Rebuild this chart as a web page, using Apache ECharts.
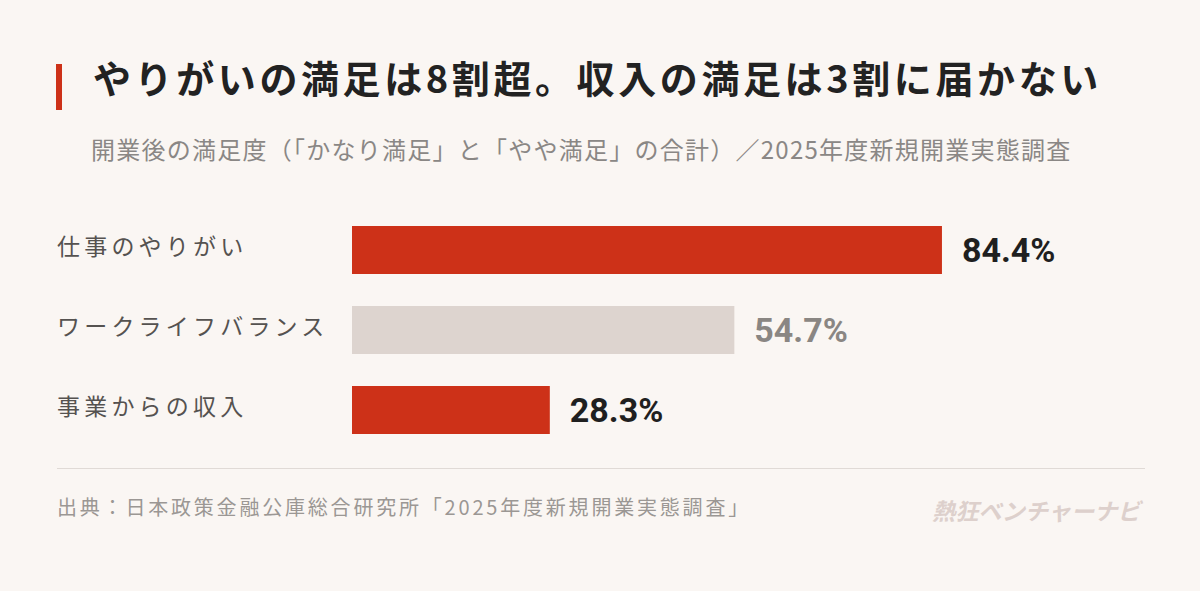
<!DOCTYPE html>
<html>
<head>
<meta charset="utf-8">
<script src="https://cdn.jsdelivr.net/npm/echarts@6/dist/echarts.min.js"></script>
<style>
  html, body { margin: 0; padding: 0; background: #faf6f3; }
  #chart { width: 1200px; height: 591px; }
  /* letter spacing of the original typesetting, picked by font size */
  #chart text[style*="38px"] { letter-spacing: 3.6px; }
  #chart text[style*="24px"] { letter-spacing: 1.25px; }
  #chart text[style*="23px"] { letter-spacing: 4.2px; }
  #chart text[style*="20px"] { letter-spacing: 2.8px; }
</style>
</head>
<body>
<div id="chart"></div>
<script>
const categories = ['仕事のやりがい', 'ワークライフバランス', '事業からの収入'];
const values = [84.4, 54.7, 28.3];
const barColors = ['#cd3118', '#ddd4cf', '#cd3118'];
const labelColors = ['#1f1f1f', '#8a8683', '#1f1f1f'];

const sansFont = '"Noto Sans CJK JP", "Noto Sans", sans-serif';
const numFont = 'Roboto, "Liberation Sans", sans-serif';

const myChart = echarts.init(document.getElementById('chart'), null, { renderer: 'svg' });

myChart.setOption({
  backgroundColor: '#faf6f3',
  animation: false,
  grid: { left: 352, right: 149, top: 210, bottom: 141 },
  xAxis: {
    type: 'value',
    min: 0,
    max: 100,
    show: false
  },
  yAxis: {
    type: 'category',
    data: categories,
    inverse: true,
    axisLine: { show: false },
    axisTick: { show: false },
    axisLabel: {
      align: 'left',
      margin: 295,
      formatter: v => '{t|' + v + '}',
      rich: {
        t: {
          color: '#555250',
          fontSize: 23,
          fontFamily: sansFont,
          padding: [0, 0, 10, 0]
        }
      }
    }
  },
  series: [{
    type: 'bar',
    barWidth: 48,
    data: values.map((v, i) => ({
      value: v,
      itemStyle: { color: barColors[i] },
      label: { color: labelColors[i] }
    })),
    label: {
      show: true,
      position: 'right',
      distance: 20,
      fontSize: 34,
      fontWeight: 'bold',
      fontFamily: numFont,
      padding: [5, 0, 0, 0],
      formatter: p => p.value.toFixed(1) + '%'
    }
  }],
  graphic: [
    { type: 'rect', left: 56, top: 64, shape: { width: 6, height: 46 }, style: { fill: '#cd3118' } },
    {
      type: 'text', left: 93, top: 57,
      style: {
        text: 'やりがいの満足は8割超。収入の満足は3割に届かない',
        fill: '#222', font: 'bold 38px ' + sansFont
      }
    },
    {
      type: 'text', left: 91, top: 136,
      style: {
        text: '開業後の満足度（「かなり満足」と「やや満足」の合計）／2025年度新規開業実態調査',
        fill: '#8a8785', font: '24px ' + sansFont
      }
    },
    { type: 'rect', left: 57, top: 468, shape: { width: 1088, height: 1 }, style: { fill: '#e0dad6' } },
    {
      type: 'text', left: 57, top: 496,
      style: {
        text: '出典：日本政策金融公庫総合研究所「2025年度新規開業実態調査」',
        fill: '#9b9794', font: '20px ' + sansFont
      }
    },
    {
      type: 'text', left: 932, top: 498,
      style: {
        text: '熱狂ベンチャーナビ',
        fill: '#ddd0cc', font: 'italic bold 23.2px ' + sansFont
      }
    }
  ]
});
</script>
</body>
</html>
